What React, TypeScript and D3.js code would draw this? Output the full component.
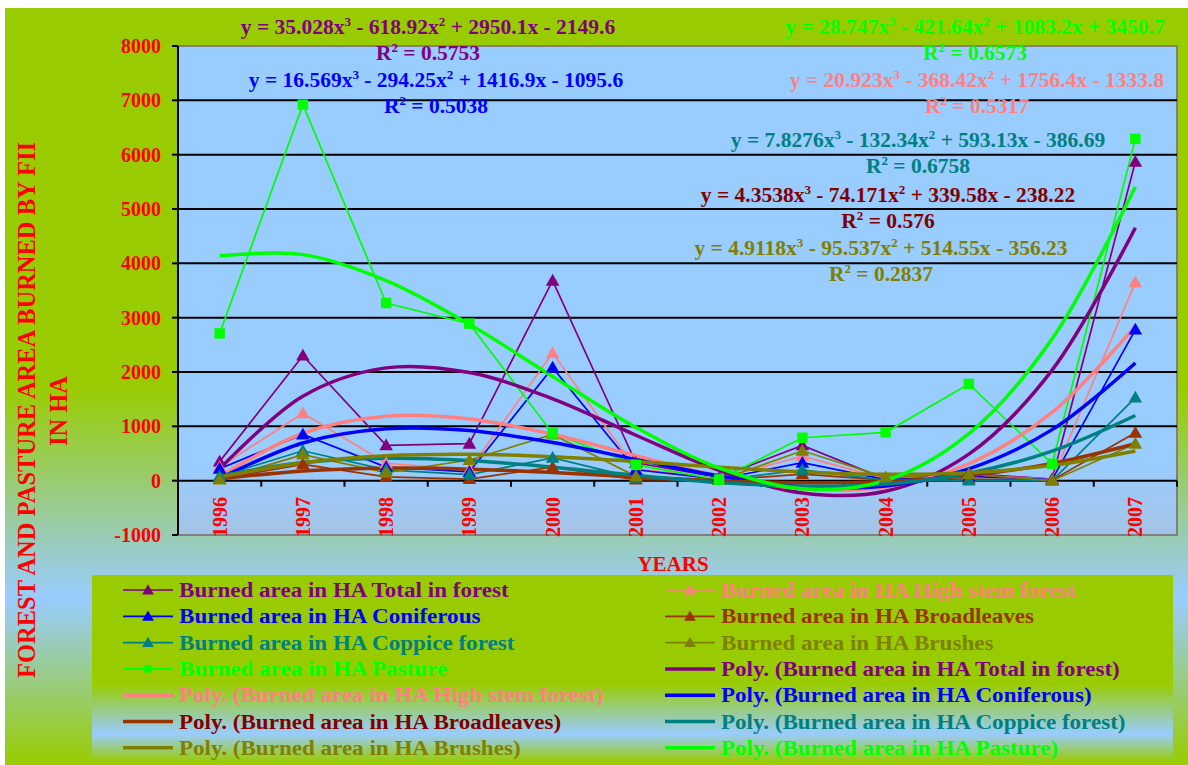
import React from 'react'
import * as d3 from 'd3'

const years = ['1996', '1997', '1998', '1999', '2000', '2001', '2002', '2003', '2004', '2005', '2006', '2007']

// burned area in HA
const totalForest = [350, 2300, 650, 680, 3680, 330, 60, 650, 30, 130, 30, 5870]
const highStem = [250, 1240, 320, 200, 2350, 220, 40, 450, 30, 100, 30, 3650]
const coniferous = [220, 850, 250, 160, 2080, 200, 30, 330, 20, 80, 20, 2780]
const broadleaves = [30, 300, 70, 30, 250, 20, 10, 120, 10, 30, 10, 880]
const coppice = [80, 550, 200, 110, 420, 50, 10, 200, 10, 0, 0, 1530]
const brushes = [20, 480, 150, 380, 850, 80, 10, 550, 60, 120, 0, 680]
const pasture = [2710, 6920, 3270, 2890, 870, 290, 20, 790, 890, 1780, 310, 6290]

// polynomial trend values at each year
const trendTotal = [216.6, 1555.1, 2076.2, 1989.9, 1506.4, 835.9, 188.6, -225.3, -195.8, 487.4, 2034.4, 4655.5]
const trendHighStem = [75.1, 872.7, 1184.5, 1136.2, 853.1, 460.8, 85.0, -148.9, -115.4, 311.2, 1256.3, 2845.5]
const trendConiferous = [43.6, 693.8, 954.2, 924.4, 703.8, 391.7, 87.6, -109.1, -98.9, 217.4, 939.4, 2166.4]
const trendBroadleaves = [31.5, 179.1, 230.5, 212.0, 149.6, 69.5, -2.2, -39.4, -15.9, 94.3, 317.4, 679.5]
const trendCoppice = [81.9, 332.8, 413.0, 369.4, 248.9, 98.6, -34.6, -103.7, -61.7, 138.2, 543.1, 1200.0]
const trendBrushes = [67.7, 330.0, 460.2, 487.7, 442.1, 352.7, 249.1, 160.6, 116.9, 147.4, 281.4, 547.6]
const trendPasture = [4141.0, 4160.5, 3681.7, 2877.1, 1919.1, 980.2, 233.0, -150.2, 3.2, 865.7, 2609.7, 5407.8]

const yTicks = [-1000, 0, 1000, 2000, 3000, 4000, 5000, 6000, 7000, 8000]

const series = [
  { name: 'Total in forest', values: totalForest, trend: trendTotal, color: '#800080', text: '#800080', eqColor: '#800080', marker: 'tri', coef: [35.028, -618.92, 2950.1, -2149.6], r2: '0.5753' },
  { name: 'High stem forest', values: highStem, trend: trendHighStem, color: '#FF8080', text: '#FF8080', eqColor: '#FF8080', marker: 'tri', coef: [20.923, -368.42, 1756.4, -1333.8], r2: '0.5317' },
  { name: 'Coniferous', values: coniferous, trend: trendConiferous, color: '#0000FF', text: '#0000FF', eqColor: '#0000FF', marker: 'tri', coef: [16.569, -294.25, 1416.9, -1095.6], r2: '0.5038' },
  { name: 'Broadleaves', values: broadleaves, trend: trendBroadleaves, color: '#993300', text: '#993300', eqColor: '#800000', marker: 'tri', coef: [4.3538, -74.171, 339.58, -238.22], r2: '0.576' },
  { name: 'Coppice forest', values: coppice, trend: trendCoppice, color: '#008080', text: '#008080', eqColor: '#008080', marker: 'tri', coef: [7.8276, -132.34, 593.13, -386.69], r2: '0.6758' },
  { name: 'Brushes', values: brushes, trend: trendBrushes, color: '#808000', text: '#808000', eqColor: '#808000', marker: 'tri', coef: [4.9118, -95.537, 514.55, -356.23], r2: '0.2837' },
  { name: 'Pasture', values: pasture, trend: trendPasture, color: '#00FF00', text: '#00FF00', eqColor: '#00FF00', marker: 'sq', coef: [28.747, -421.64, 1083.2, 3450.7], r2: '0.6573' },
]

// where each equation label sits (center x, baseline y) – same order as series
const eqPos = [
  [428, 34], [977, 87], [436, 87], [888, 202], [918, 147], [881, 255], [975, 34],
]

const FONT = '"Liberation Serif", "Times New Roman", serif'

const sign = (v: number) => (v < 0 ? '-' : '+')

function Equation({ coef, r2, x, y, color }: any) {
  const [a, b, c, d] = coef
  return (
    <g fill={color} fontFamily={FONT} fontWeight="bold" fontSize={21.5} textAnchor="middle" style={{ whiteSpace: 'pre' }}>
      <text x={x} y={y}>
        {`y = ${a}x`}
        <tspan dy={-8} fontSize={13}>3</tspan>
        <tspan dy={8}>{` ${sign(b)} ${Math.abs(b)}x`}</tspan>
        <tspan dy={-8} fontSize={13}>2</tspan>
        <tspan dy={8}>{` ${sign(c)} ${Math.abs(c)}x ${sign(d)} ${Math.abs(d)}`}</tspan>
      </text>
      <text x={x} y={y + 26}>
        R<tspan dy={-8} fontSize={13}>2</tspan>
        <tspan dy={8}>{` = ${r2}`}</tspan>
      </text>
    </g>
  )
}

function Marker({ type, x, y, color, size }: any) {
  const sym = type === 'sq' ? d3.symbolSquare : d3.symbolTriangle
  const d = d3.symbol(sym, size)()
  return <path d={d || ''} transform={`translate(${x},${y + (type === 'sq' ? 0 : 1)})`} fill={color} />
}

export default function App() {
  const plot = { left: 178, top: 46, right: 1177, bottom: 535 }
  const x = d3.scalePoint<string>().domain(years).range([plot.left, plot.right]).padding(0.5)
  const y = d3.scaleLinear().domain([-1000, 8000]).range([plot.bottom, plot.top])
  const step = x.step()

  const line = d3.line<number>()
    .x((_, i) => x(years[i]) as number)
    .y(v => y(v))
  const smooth = d3.line<number>()
    .x((_, i) => x(years[i]) as number)
    .y(v => y(v))
    .curve(d3.curveCatmullRom.alpha(0.5))

  // legend entries: data series first then trendlines
  const legendItems = [
    ...series.map(s => ({ label: `Burned area in HA ${s.name}`, color: s.color, text: s.text, marker: s.marker, poly: false })),
    ...series.map(s => ({ label: `Poly. (Burned area in HA ${s.name})`, color: s.color, text: s.name === 'Broadleaves' ? '#800000' : s.text, marker: null, poly: true })),
  ]

  return (
    <div style={{ position: 'absolute', left: 0, top: 0 }}>
      <svg width={1188} height={765} style={{ display: 'block' }}>
        <defs>
          <linearGradient id="bg" x1="0" y1="0" x2="0" y2="1">
            <stop offset="0" stopColor="#99CC00" />
            <stop offset="0.5" stopColor="#99CC00" />
            <stop offset="0.78" stopColor="#99CCFF" />
            <stop offset="1" stopColor="#99CC00" />
          </linearGradient>
          <linearGradient id="lg" x1="0" y1="0" x2="0" y2="1">
            <stop offset="0" stopColor="#99CC00" />
            <stop offset="0.58" stopColor="#99CC00" />
            <stop offset="0.85" stopColor="#99CCFF" />
            <stop offset="1" stopColor="#99CC00" />
          </linearGradient>
          <linearGradient id="pg" x1="0" y1="0" x2="0" y2="1">
            <stop offset="0" stopColor="#99CCFF" />
            <stop offset="0.85" stopColor="#99CCFF" />
            <stop offset="1" stopColor="#A4C4E6" />
          </linearGradient>
        </defs>

        <rect x={5} y={8} width={1183} height={757} fill="url(#bg)" />

        {/* plot area */}
        <rect x={plot.left} y={plot.top} width={plot.right - plot.left} height={plot.bottom - plot.top} fill="url(#pg)" stroke="#808080" strokeWidth={2} />

        {yTicks.filter(t => t > 0 && t < 8000).map(t => (
          <line key={t} x1={plot.left} x2={plot.right} y1={y(t)} y2={y(t)} stroke="#000" strokeWidth={2} />
        ))}

        {/* y axis */}
        <line x1={plot.left} x2={plot.left} y1={plot.top} y2={plot.bottom} stroke="#000" strokeWidth={2} />
        {yTicks.map(t => (
          <g key={t}>
            <line x1={plot.left - 6} x2={plot.left} y1={y(t)} y2={y(t)} stroke="#000" strokeWidth={2} />
            <text x={161} y={y(t)} dy="0.35em" textAnchor="end" fill="#FF0000" fontFamily={FONT} fontWeight="bold" fontSize={20}>{t}</text>
          </g>
        ))}

        {/* x axis at zero */}
        <line x1={plot.left} x2={plot.right} y1={y(0)} y2={y(0)} stroke="#000" strokeWidth={2} />
        {years.map((yr, i) => (
          <line key={yr} x1={plot.left + step * (i + 1)} x2={plot.left + step * (i + 1)} y1={y(0)} y2={y(0) + 6} stroke="#000" strokeWidth={2} />
        ))}
        {years.map(yr => (
          <text key={yr} transform={`translate(${x(yr)},497) rotate(-90)`} dy="0.35em" textAnchor="end" fill="#FF0000" fontFamily={FONT} fontWeight="bold" fontSize={20}>{yr}</text>
        ))}

        {/* data lines */}
        {series.map(s => (
          <path key={s.name} d={line(s.values) || ''} fill="none" stroke={s.color} strokeWidth={1.7} />
        ))}
        {/* trend lines */}
        {series.map(s => (
          <path key={s.name} d={smooth(s.trend) || ''} fill="none" stroke={s.color} strokeWidth={3.5} />
        ))}
        {/* markers */}
        {series.map(s => (
          <g key={s.name}>
            {s.values.map((v, i) => (
              <Marker key={i} type={s.marker} x={x(years[i])} y={y(v)} color={s.color} size={s.marker === 'sq' ? 110 : 80} />
            ))}
          </g>
        ))}

        {/* equations */}
        {series.map((s, i) => (
          <Equation key={s.name} coef={s.coef} r2={s.r2} x={eqPos[i][0]} y={eqPos[i][1]} color={s.eqColor} />
        ))}

        {/* axis titles */}
        <text x={673} y={571} textAnchor="middle" fill="#FF0000" fontFamily={FONT} fontWeight="bold" fontSize={21}>YEARS</text>
        <g fill="#FF0000" fontFamily={FONT} fontWeight="bold" fontSize={24.5} textAnchor="middle">
          <text transform="translate(26,410) rotate(-90)" dy="0.35em">FOREST AND PASTURE AREA BURNED BY FII</text>
          <text transform="translate(58,411) rotate(-90)" dy="0.35em">IN HA</text>
        </g>

        {/* legend */}
        <rect x={92} y={575} width={1081} height={187} fill="url(#lg)" />
        {legendItems.map((it, i) => {
          const col = i % 2
          const row = Math.floor(i / 2)
          const lx = col === 0 ? 123 : 665
          const ly = 590 + row * 26.3
          return (
            <g key={it.label}>
              <line x1={lx} x2={lx + 50} y1={ly} y2={ly} stroke={it.color} strokeWidth={it.poly ? 3.5 : 1.7} />
              {it.marker && <Marker type={it.marker} x={lx + 25} y={ly} color={it.color} size={it.marker === 'sq' ? 55 : 60} />}
              <text transform={`translate(${lx + 56},${ly}) scale(1.153,1)`} dy="0.35em" fill={it.text} fontFamily={FONT} fontWeight="bold" fontSize={20}>{it.label}</text>
            </g>
          )
        })}
      </svg>
    </div>
  )
}
